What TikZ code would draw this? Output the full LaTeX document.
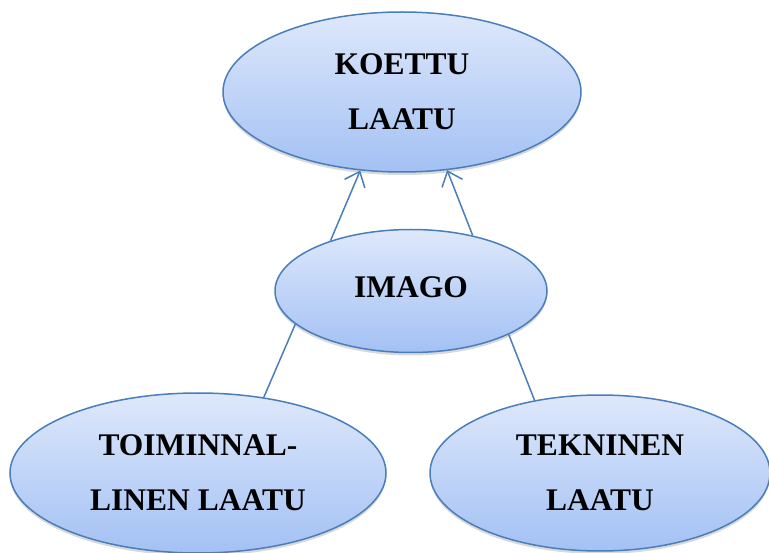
\documentclass[tikz,border=0pt]{standalone}
\usepackage{fontspec}
\setmainfont{Liberation Serif}
\usepackage{tikz}
\usetikzlibrary{shapes.geometric,shadows,arrows.meta}
\definecolor{ovaltop}{HTML}{DEE8FB}
\definecolor{ovalbot}{HTML}{A3C1F4}
\definecolor{ovalline}{HTML}{4A7EBB}
\tikzset{>={Straight Barb[length=13pt,width=22pt]}}
\tikzset{
  oval/.style={shape=ellipse,draw=ovalline,line width=1.5pt,top color=ovaltop,bottom color=ovalbot,
    inner sep=0pt,align=center,font=\fontsize{31.5}{55}\selectfont\bfseries,
    drop shadow={shadow xshift=0pt,shadow yshift=-3pt,opacity=0.3}},
  link/.style={draw=ovalline,line width=1.5pt}
}

\begin{document}
\begin{tikzpicture}[x=1pt,y=1pt]
\useasboundingbox (0,0) rectangle (769,-553);

\path (402,-92) node [oval,minimum width=358pt,minimum height=160pt] (koettu) {KOETTU\\LAATU};

\path (411,-291) node [oval,minimum width=272pt,minimum height=123pt] (imago) {\raisebox{7pt}{IMAGO}};

\path (198,-473) node [oval,minimum width=376pt,minimum height=160pt] (toiminnal) {TOIMINNAL-\\LINEN LAATU};

\path (600,-473) node [oval,minimum width=340pt,minimum height=156pt] (tekninen) {TEKNINEN\\LAATU};

\draw [link,->] (imago.148) -- (koettu.242);
\draw [link,->] (imago.42) -- (koettu.300);
\draw [link] (imago.196) -- (toiminnal.49);
\draw [link] (imago.336) -- (tekninen.132);

\end{tikzpicture}
\end{document}
